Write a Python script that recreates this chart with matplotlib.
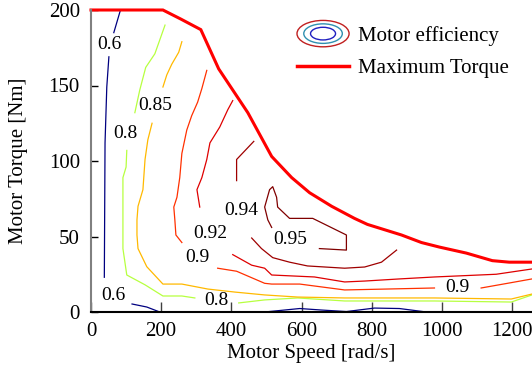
import numpy as np
import matplotlib
matplotlib.use('Agg')
import matplotlib.pyplot as plt
from matplotlib.patches import Ellipse
from matplotlib.legend_handler import HandlerBase
from matplotlib.lines import Line2D
from matplotlib.colors import Normalize

plt.rcParams['font.family'] = ['Liberation Serif', 'DejaVu Serif']

nan = np.nan

# Maximum torque envelope
max_speed = [0, 205, 256, 313, 364, 447, 515, 572, 623, 686, 751, 788, 885, 942, 993, 1070, 1144, 1192, 1257]
max_torque = [200, 200, 194, 187, 161, 132, 103, 89, 79, 70, 62, 58, 51, 46, 43, 39, 34, 33, 33]

# Efficiency contour lines (nan separates pieces broken by labels)
eff060_speed = [84, 65, nan, 51, 45, 40, 38, nan, 117, 159, 196, nan, 495, 595, 657, 728, 808, 879, 956]
eff060_torque = [200, 185, nan, 169, 149, 112, 23, nan, 5.3, 3.3, 0, nan, 0, 2.3, 1.3, 0.3, 2.6, 2.3, 0]

eff080_speed = [211, 182, 156, 139, 125, nan, 102, 100, 91, 91, 102, 154, 205, 259, 296, nan,
                421, 495, 589, 723, 979, 1198, 1257]
eff080_torque = [190, 171, 162, 147, 132, nan, 107, 96, 89, 42, 24.5, 18, 10.6, 10.6, 9.3, nan,
                 6, 8, 9.3, 7.3, 7.3, 6.6, 11.3]

eff085_speed = [259, 250, 230, 216, 205, nan, 174, 162, 154, 148, 134, 131, 131, 134, 159, 205, 259,
                333, 410, 495, 589, 723, 979, 1198, 1257]
eff085_torque = [179, 172, 164, 157, 149, nan, 125, 114, 101, 81, 70, 61, 51, 42, 30, 18.5, 18.5,
                 15.2, 13.2, 11.3, 9.9, 9.3, 9.3, 8.6, 11.9]

eff090_speed = [330, 316, 304, 287, 273, 259, 253, 245, 236, 239, 242, 259, nan,
                361, 415, 495, 515, 595, 723, 979, nan, 1112, 1192, 1257]
eff090_torque = [160, 148, 139, 130, 120.5, 105, 89, 76, 69.5, 61, 51, 46, nan,
                 29, 27, 19, 18.5, 18.5, 14.6, 15.9, nan, 15.9, 19.2, 21.9]

eff092_speed = [404, 390, 367, 339, 330, 316, 302, 310, nan,
                404, 458, 495, 515, 637, 723, 780, 879, 979, 1155, 1257]
eff092_torque = [140, 134, 122.5, 112, 101, 89, 81, 69.5, nan,
                 38, 31, 29, 24.5, 23.2, 19.9, 20.5, 21.9, 23.2, 25, 28.5]

eff094_speed = [464, 415, 415, nan, 458, 486, 518, 566, 617, 723, 780, 828, 871]
eff094_torque = [113, 101, 87, nan, 49, 42, 36, 33, 30.5, 29, 29.8, 33, 41]

eff095_speed = [515, 504, 495, 509, 518, 529, 532, 566, 632, 728, 728, 651]
eff095_torque = [56, 61, 69.5, 81, 83, 76, 69.5, 62, 62, 51, 41, 42]

levels = [0.6, 0.8, 0.85, 0.9, 0.92, 0.94, 0.95]
contour_speed = [eff060_speed, eff080_speed, eff085_speed, eff090_speed, eff092_speed, eff094_speed, eff095_speed]
contour_torque = [eff060_torque, eff080_torque, eff085_torque, eff090_torque, eff092_torque, eff094_torque, eff095_torque]

label_text = ['0.6', '0.85', '0.8', '0.94', '0.92', '0.9', '0.95', '0.6', '0.8', '0.9']
label_speed = [51, 182, 97, 427, 341, 302, 569, 63, 356, 1044]
label_torque = [177, 137, 118, 67, 52, 36, 48, 11, 7.3, 16]

xticks = [0, 200, 400, 600, 800, 1000, 1200]
yticks = [0, 50, 100, 150, 200]

cmap = plt.get_cmap('jet')
norm = Normalize(0.6, 0.95)

fig = plt.figure(figsize=(5.32, 3.77), dpi=100)
ax = fig.add_axes([91 / 532, 65 / 377, 441 / 532, 302 / 377])

for lev, xs, ys in zip(levels, contour_speed, contour_torque):
    ax.plot(xs, ys, color=cmap(norm(lev)), lw=0.9)

ax.plot(max_speed, max_torque, color='#ff0000', lw=2.2, clip_on=False, solid_joinstyle='miter')

for t, x, y in zip(label_text, label_speed, label_torque):
    ax.text(x, y, t, fontsize=14, ha='center', va='center')

ax.set_xlim(0, 1257)
ax.set_ylim(0, 200)
ax.set_xticks(xticks)
ax.set_yticks(yticks)
ax.tick_params(direction='in', labelsize=15, colors='black')
ax.tick_params(axis='x', length=7, width=1, color='#404040', pad=7)
ax.tick_params(axis='y', length=5, width=1, pad=8)
for s in ['top', 'right']:
    ax.spines[s].set_visible(False)
ax.spines['left'].set_color('#808080')
ax.spines['left'].set_linewidth(1.5)
ax.spines['bottom'].set_color('black')
ax.spines['bottom'].set_linewidth(1.5)
ax.set_xlabel('Motor Speed [rad/s]', fontsize=15)
ax.set_ylabel('Motor Torque [Nm]', fontsize=15)
ax.xaxis.set_label_coords(0.5, -0.105)
ax.yaxis.set_label_coords(-0.143, 0.5)


class EllipseHandler(HandlerBase):
    def create_artists(self, legend, orig_handle, xdescent, ydescent, width, height, fontsize, trans):
        cx = 0.5 * width - xdescent
        cy = 0.5 * height - ydescent
        arts = []
        for f, c in zip([1.0, 0.74, 0.48], ['#c02020', '#3090b0', '#2020c0']):
            e = Ellipse((cx, cy), width * f, 19 * f, fill=False, edgecolor=c, lw=1.0, transform=trans)
            arts.append(e)
        return arts


eff_handle = Line2D([], [], color='none')
max_handle = Line2D([], [], color='#ff0000', lw=2.5)
ax.legend([eff_handle, max_handle], ['Motor efficiency', 'Maximum Torque'],
          handler_map={eff_handle: EllipseHandler()},
          loc='upper left', bbox_to_anchor=(297 / 532, 1 - 26 / 377), bbox_transform=fig.transFigure,
          frameon=False, fontsize=15, borderpad=0, borderaxespad=0, handlelength=2.5,
          handletextpad=0.45, labelspacing=0.6)

fig.savefig('out.png', dpi=100)
